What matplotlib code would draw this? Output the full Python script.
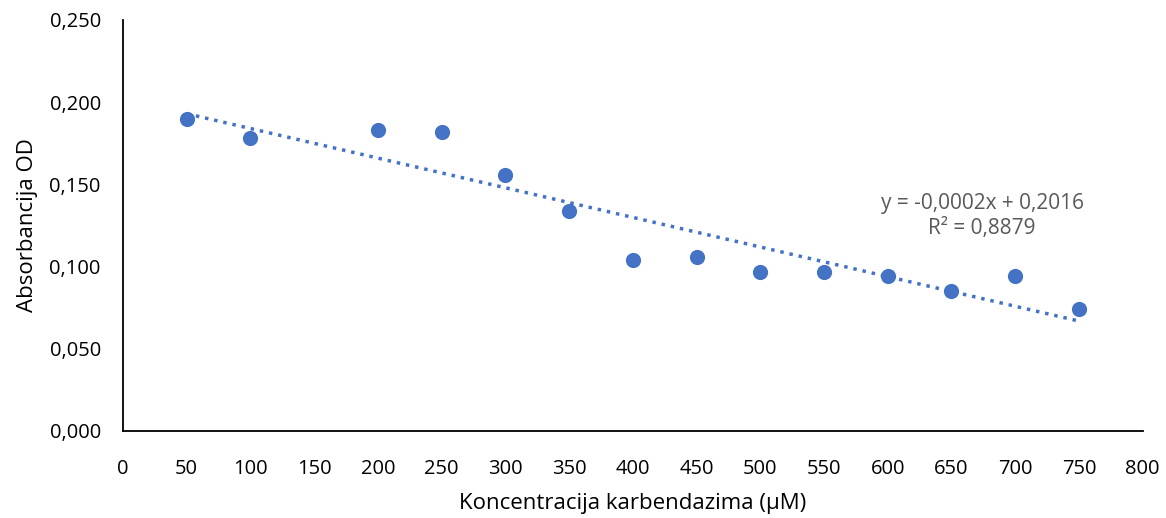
import numpy as np
import matplotlib.pyplot as plt
from matplotlib.ticker import FuncFormatter

# koncentracija karbendazima (uM) i izmjerena apsorbancija
koncentracija = [50, 100, 200, 250, 300, 350, 400, 450, 500, 550, 600, 650, 700, 750]
absorbancija = [0.190, 0.178, 0.183, 0.182, 0.156, 0.134, 0.104, 0.106,
                0.097, 0.097, 0.094, 0.085, 0.094, 0.074]
jednadzba = "y = -0,0002x + 0,2016\nR² = 0,8879"

plt.rcParams['font.family'] = ['Open Sans', 'DejaVu Sans']
blue = "#4472C4"

fig = plt.figure(figsize=(11.66, 5.18), dpi=100)
ax = fig.add_axes([0.1055, 0.168, 0.8745, 0.7934])

ax.scatter(koncentracija, absorbancija, s=120, color=blue, zorder=3, linewidths=0)

# linearni trend
k, n = np.polyfit(koncentracija, absorbancija, 1)
xs = np.array([koncentracija[0], koncentracija[-1]])
ax.plot(xs, k * xs + n, color=blue, linestyle=(0, (1, 1.7)), linewidth=2.5, zorder=2)

ax.text(674, 0.117, jednadzba, ha="center", va="bottom",
        fontsize=15, color="#595959", linespacing=1.25)

ax.set_xlim(0, 800)
ax.set_ylim(0, 0.25)
ax.set_xticks(np.arange(0, 801, 50))
ax.set_yticks(np.arange(0, 0.251, 0.05))
ax.yaxis.set_major_formatter(FuncFormatter(lambda v, p: f"{v:.3f}".replace(".", ",")))
ax.tick_params(length=0, labelsize=14.5)
ax.tick_params(axis="x", pad=20)
ax.tick_params(axis="y", pad=16)

for s in ["top", "right"]:
    ax.spines[s].set_visible(False)
for s in ["left", "bottom"]:
    ax.spines[s].set_color("black")
    ax.spines[s].set_linewidth(1.3)

ax.set_xlabel("Koncentracija karbendazima (µM)", fontsize=16, labelpad=10)
ax.set_ylabel("Absorbancija OD", fontsize=16, labelpad=8)

fig.savefig("out.png", dpi=100)
